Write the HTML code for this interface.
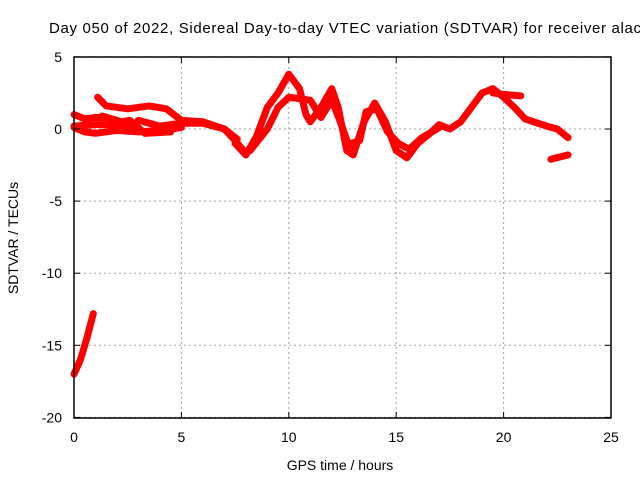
<!DOCTYPE html>
<html><head><meta charset="utf-8"><style>
body{margin:0;background:#fff;}
svg{font-family:"Liberation Sans",sans-serif;font-size:14px;}
</style></head><body>
<svg width="640" height="480" id="c">
<text x="49" y="33" text-anchor="start" textLength="592" lengthAdjust="spacing" style="font-size:15px">Day 050 of 2022, Sidereal Day-to-day VTEC variation (SDTVAR) for receiver alac</text>
<text x="340" y="470" text-anchor="middle">GPS time / hours</text>
<text transform="translate(18,238) rotate(-90)" text-anchor="middle">SDTVAR / TECUs</text>
<g id="grid"></g><g id="series"></g>
<rect x="74" y="57" width="537" height="361" fill="none" stroke="#000" stroke-width="1.5"/>
<g id="ticks"></g>
</svg>
<script>
const xTicks=[0,5,10,15,20,25];
const yTicks=[5,0,-5,-10,-15,-20];
const s1=[[0,0.1],[0.5,-0.2],[1,-0.3],[2,-0.1],[3,-0.2],[4,-0.1],[5,0.1]];
const s2=[[0,1.0],[0.5,0.7],[1,0.8],[1.5,0.8],[2,0.6],[2.5,0.1]];
const s3=[[1.1,2.2],[1.5,1.6],[2.5,1.4],[3.5,1.6],[4.3,1.4],[5,0.6],[6,0.5],[7,0],[7.5,-0.8],[8,-1.7]];
const s4=[[0,0.2],[1,0.3],[2,0.3],[2.7,0.1],[3,0.6],[4,0.2],[5,0.4],[6,0.4],[7,0],[7.6,-0.7]];
const s5=[[7.5,-1],[8,-1.8],[8.5,-0.5],[9,1.5],[9.5,2.5],[10,3.8],[10.5,2.8],[10.8,1],[11,0.5],[11.5,1.5],[12,2.8],[12.3,1.5],[12.7,-1.5],[13,-1.8],[13.5,0.5],[14,1.8],[14.5,0.5],[15,-1.5],[15.5,-2],[16,-1],[16.5,-0.4],[17,0.3],[17.5,0],[18,0.5],[18.5,1.5],[19,2.5],[19.5,2.8],[20,2.2],[20.5,1.5],[21,0.7],[22,0.2],[22.5,0],[23,-0.6]];
const s6=[[8.2,-1.5],[9,0],[9.5,1.5],[10,2.2],[11,2],[11.5,0.8],[12,2],[12.4,0.5],[12.8,-1.2]];
const s7=[[19.5,2.5],[20,2.4],[20.8,2.3]];
const s8=[[22.2,-2.1],[23,-1.8]];
const s9=[[0,-17],[0.3,-16],[0.6,-14.5],[0.9,-12.8]];
const s10=[[12.9,-1],[13.3,-0.8],[13.6,1.2],[14.1,1.4],[14.6,-0.2],[15.1,-1],[15.6,-1.4],[16.2,-0.6],[17,0.1]];
const s11=[[1.3,0.9],[2.2,0.5],[2.6,0.6],[3.3,-0.3],[4.5,-0.2]];
const allSeries=[s1,s2,s3,s4,s5,s6,s7,s8,s9,s10,s11];
const X=h=>74+h*21.48, Y=v=>129-v*14.42;
const NS='http://www.w3.org/2000/svg';
const grid=document.getElementById('grid'),ticks=document.getElementById('ticks'),ser=document.getElementById('series');
function mk(t,a,p){const e=document.createElementNS(NS,t);for(const k in a)e.setAttribute(k,a[k]);p.appendChild(e);return e;}
xTicks.forEach(t=>{
 const g=mk('line',{x1:X(t),x2:X(t),y1:57,y2:418,stroke:'#a0a0a0','stroke-dasharray':'2,3'},grid);
 
 mk('line',{x1:X(t),x2:X(t),y1:418,y2:412,stroke:'#000'},ticks);mk('line',{x1:X(t),x2:X(t),y1:57,y2:63,stroke:'#000'},ticks);
 const l=mk('text',{x:X(t),y:442,'text-anchor':'middle'},ticks);l.textContent=t;
 
});
yTicks.forEach(t=>{
 const g=mk('line',{x1:74,x2:611,y1:Y(t),y2:Y(t),stroke:'#a0a0a0','stroke-dasharray':'2,3'},grid);
 
 mk('line',{x1:74,x2:80,y1:Y(t),y2:Y(t),stroke:'#000'},ticks);mk('line',{x1:611,x2:605,y1:Y(t),y2:Y(t),stroke:'#000'},ticks);
 const l=mk('text',{x:62,y:Y(t)+5,'text-anchor':'end'},ticks);l.textContent=t;
 
});
allSeries.forEach(s=>{
 const p=mk('polyline',{points:s.map(d=>X(d[0])+','+Y(d[1])).join(' '),fill:'none',stroke:'#ff0000','stroke-width':7,'stroke-linejoin':'round','stroke-linecap':'round'},ser);
 
 
});
</script>
</body></html>
